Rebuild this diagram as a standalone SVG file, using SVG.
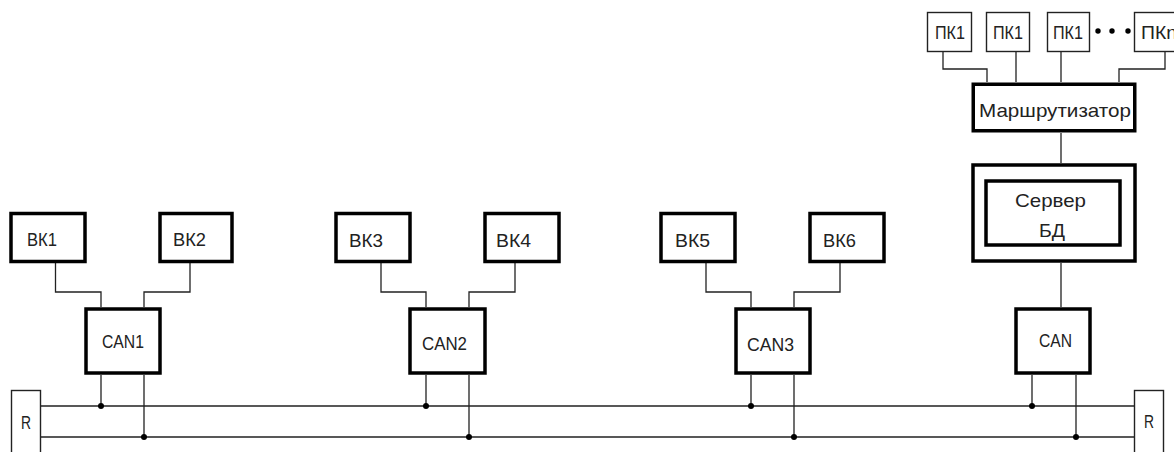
<svg xmlns="http://www.w3.org/2000/svg" width="1174" height="452" viewBox="0 0 1174 452">
<style>
.thick{fill:#fff;stroke:#000;stroke-width:3.5}
.thin{fill:#fff;stroke:#222;stroke-width:1.4}
.ln{fill:none;stroke:#222;stroke-width:1.3}
text{font-family:"Liberation Sans",Arial,sans-serif;font-size:19px;fill:#222}
</style>
<rect width="1174" height="452" fill="#fff"/>
<g id="connectors">
<path class="ln" d="M55.5 263V292H101V307M190 263V292H144V307M381 263V292H426V307M515 263V292H469V307M706 263V292H751V307M840 263V292H794V307"/>
<path class="ln" d="M101 375V406M144 375V437M426 375V406M469 375V437M751 375V406M794 375V437M1032 375V406M1076 375V437"/>
<path class="ln" d="M41 406H1134M41 437H1134"/>
<path class="ln" d="M1061 263V307M1061 133V163M943 52V69H987V82M1016 52V82M1061 52V82M1165 52V69H1119V82"/>
<g fill="#000">
<circle cx="101" cy="406" r="3"/><circle cx="144" cy="437" r="3"/>
<circle cx="426" cy="406" r="3"/><circle cx="469" cy="437" r="3"/>
<circle cx="751" cy="406" r="3"/><circle cx="794" cy="437" r="3"/>
<circle cx="1032" cy="406" r="3"/><circle cx="1076" cy="437" r="3"/>
<circle cx="1098" cy="31" r="2.7"/><circle cx="1112" cy="31" r="2.7"/><circle cx="1128" cy="31" r="2.7"/>
</g>
</g>
<g id="bk1"><rect class="thick" x="11" y="213.5" width="74" height="48"/><text x="27" y="246" textLength="30" lengthAdjust="spacingAndGlyphs">ВК1</text></g>
<g id="bk2"><rect class="thick" x="160" y="213.5" width="72" height="48"/><text x="173" y="246" textLength="33" lengthAdjust="spacingAndGlyphs">ВК2</text></g>
<g id="bk3"><rect class="thick" x="336" y="213.5" width="74" height="48"/><text x="349" y="247" textLength="34" lengthAdjust="spacingAndGlyphs">ВК3</text></g>
<g id="bk4"><rect class="thick" x="485" y="213.5" width="74" height="48"/><text x="496" y="247" textLength="35" lengthAdjust="spacingAndGlyphs">ВК4</text></g>
<g id="bk5"><rect class="thick" x="661" y="213.5" width="74" height="48"/><text x="675" y="247" textLength="35" lengthAdjust="spacingAndGlyphs">ВК5</text></g>
<g id="bk6"><rect class="thick" x="810" y="213.5" width="74" height="48"/><text x="823" y="247" textLength="33" lengthAdjust="spacingAndGlyphs">ВК6</text></g>
<g id="can1"><rect class="thick" x="86" y="309" width="74" height="64"/><text x="102" y="348" textLength="42" lengthAdjust="spacingAndGlyphs">CAN1</text></g>
<g id="can2"><rect class="thick" x="410" y="309" width="75" height="64"/><text x="422" y="350" textLength="45" lengthAdjust="spacingAndGlyphs">CAN2</text></g>
<g id="can3"><rect class="thick" x="736" y="309" width="74" height="64"/><text x="747" y="351" textLength="47" lengthAdjust="spacingAndGlyphs">CAN3</text></g>
<g id="can"><rect class="thick" x="1016" y="309" width="74" height="64"/><text x="1039" y="347" textLength="33" lengthAdjust="spacingAndGlyphs">CAN</text></g>
<g id="server"><rect class="thick" x="973" y="165" width="162" height="96" stroke-width="4"/><rect class="thick" x="986" y="181" width="134" height="64" stroke-width="4"/><text x="1015" y="207" textLength="71" lengthAdjust="spacingAndGlyphs">Сервер</text><text x="1039" y="237" textLength="26" lengthAdjust="spacingAndGlyphs">БД</text></g>
<g id="router"><rect class="thick" x="973.25" y="84.25" width="161.5" height="46.5" stroke-width="4.5"/><text x="979" y="117" textLength="152" lengthAdjust="spacingAndGlyphs">Маршрутизатор</text></g>
<g id="pk1a"><rect class="thin" x="927.5" y="12.5" width="44" height="39"/><text x="935" y="39" textLength="30" lengthAdjust="spacingAndGlyphs">ПК1</text></g>
<g id="pk1b"><rect class="thin" x="986.5" y="12.5" width="43" height="39"/><text x="993" y="39" textLength="30" lengthAdjust="spacingAndGlyphs">ПК1</text></g>
<g id="pk1c"><rect class="thin" x="1047.5" y="12.5" width="42" height="39"/><text x="1053" y="39" textLength="30" lengthAdjust="spacingAndGlyphs">ПК1</text></g>
<g id="pkn"><rect class="thin" x="1134.5" y="12.5" width="60" height="39"/><text x="1141" y="39" textLength="36" lengthAdjust="spacingAndGlyphs">ПКn</text></g>
<g id="r-left"><rect class="thin" x="11.5" y="390.5" width="29" height="80"/><text x="21" y="429" textLength="10" lengthAdjust="spacingAndGlyphs">R</text></g>
<g id="r-right"><rect class="thin" x="1134.5" y="390.5" width="29" height="80"/><text x="1144" y="428" textLength="10" lengthAdjust="spacingAndGlyphs">R</text></g>
</svg>
